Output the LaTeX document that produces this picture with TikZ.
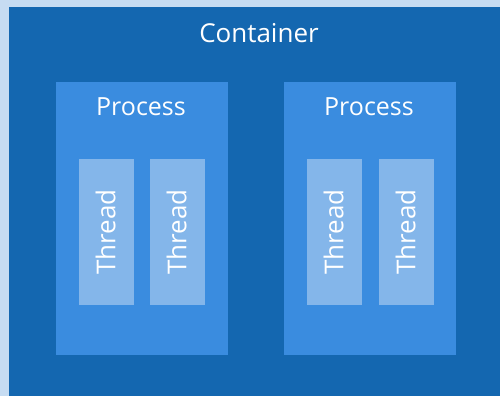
\documentclass[tikz,border=0pt]{standalone}
\usepackage{fontspec}
\setmainfont{Open Sans}
\definecolor{pagebg}{HTML}{C6DCF2}
\definecolor{contbg}{HTML}{1467B0}
\definecolor{procbg}{HTML}{3A8CDF}
\definecolor{thrbg}{HTML}{84B6EA}
\begin{document}
\begin{tikzpicture}[x=1pt,y=-1pt,
  label/.style={text=white,inner sep=0pt}]
\useasboundingbox (0,0) rectangle (500,396);
\fill[pagebg] (0,0) rectangle (500,396);
% container
\fill[contbg] (9,7) rectangle (500,396);
\node[label,font=\fontsize{26}{30}\selectfont] (ctitle) at (259,33) {Container};
% processes
\fill[procbg] (56,82) rectangle (228,355);
\fill[procbg] (284,82) rectangle (456,355);
\node[label,font=\fontsize{25}{29}\selectfont] (p1title) at (141,107) {Process};
\node[label,font=\fontsize{25}{29}\selectfont] (p2title) at (369,107) {Process};
% threads
\foreach \n/\xa/\xb in {t1/79/134, t2/150/205, t3/307/362, t4/379/434}{
  \fill[thrbg] (\xa,159) rectangle (\xb,305);
  \node[label,rotate=90,font=\fontsize{26}{30}\selectfont] (\n) at ({(\xa+\xb)/2-1},232) {Thread};
}
\end{tikzpicture}
\end{document}
